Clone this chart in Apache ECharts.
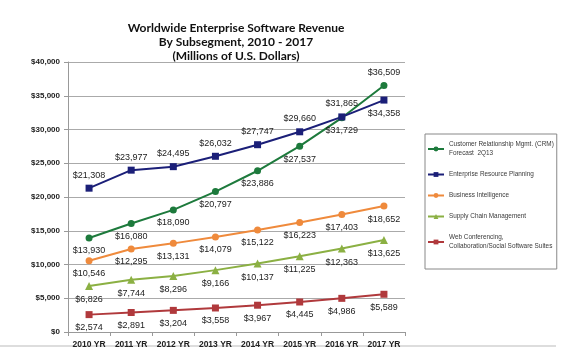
<!DOCTYPE html>
<html>
<head>
<meta charset="utf-8">
<script src="https://cdn.jsdelivr.net/npm/echarts@6/dist/echarts.min.js"></script>
<style>
  html, body { margin: 0; padding: 0; background: #fff; }
  #revenueGraph { width: 561px; height: 353px; }
</style>
</head>
<body>
<div id="revenueGraph"></div>
<script>
// Data (millions of U.S. dollars)
const years = ["2010 YR", "2011 YR", "2012 YR", "2013 YR", "2014 YR", "2015 YR", "2016 YR", "2017 YR"];
const crm = [13930, 16080, 18090, 20797, 23886, 27537, 31729, 36509];
const erp = [21308, 23977, 24495, 26032, 27747, 29660, 31865, 34358];
const bi = [10546, 12295, 13131, 14079, 15122, 16223, 17403, 18652];
const scm = [6826, 7744, 8296, 9166, 10137, 11225, 12363, 13625];
const webConf = [2574, 2891, 3204, 3558, 3967, 4445, 4986, 5589];
const yTicks = [0, 5000, 10000, 15000, 20000, 25000, 30000, 35000, 40000];

const money = (v) => "$" + v.toLocaleString("en-US");

// Build one line series; labels go to "pos", except the indexes in "flipped"
function makeSeries(name, data, color, symbol, pos, flipped) {
  const other = pos === "top" ? "bottom" : "top";
  return {
    name: name,
    type: "line",
    data: data.map((v, i) => ({
      value: v,
      label: { position: flipped.includes(i) ? other : pos },
    })),
    symbol: symbol,
    symbolSize: symbol === "triangle" ? 8 : 7,
    lineStyle: { color: color, width: 2 },
    itemStyle: { color: color },
    label: {
      show: true,
      distance: 5,
      formatter: (p) => money(p.value),
      fontFamily: "Liberation Sans",
      fontSize: 9,
      color: "#222",
    },
  };
}

function drawRevenueGraph() {
  const chart = echarts.init(document.getElementById("revenueGraph"));

  const option = {
    animation: false,
    title: {
      text: "Worldwide Enterprise Software Revenue\nBy Subsegment, 2010 - 2017\n(Millions of U.S. Dollars)",
      left: 231,
      top: 16,
      textAlign: "center",
      textStyle: {
        fontFamily: "Lato",
        fontWeight: "bold",
        fontSize: 12,
        lineHeight: 14,
        color: "#111",
      },
    },
    legend: {
      orient: "vertical",
      left: 425,
      top: 134,
      padding: [6, 3, 18, 2],
      itemGap: 12,
      itemWidth: 16,
      itemHeight: 6,
      borderColor: "#888",
      borderWidth: 1,
      textStyle: {
        fontFamily: "Liberation Sans",
        fontSize: 6.4,
        lineHeight: 9,
        color: "#3a3a3a",
      },
    },
    grid: { left: 68, right: 156, top: 62, bottom: 21 },
    xAxis: {
      type: "category",
      data: years,
      boundaryGap: true,
      axisLine: { lineStyle: { color: "#999" } },
      axisTick: { show: true, length: 4, lineStyle: { color: "#999" } },
      axisLabel: {
        interval: 0,
        margin: 8,
        fontFamily: "Liberation Sans",
        fontWeight: "bold",
        fontSize: 8.5,
        color: "#222",
      },
    },
    yAxis: {
      type: "value",
      min: yTicks[0],
      max: yTicks[yTicks.length - 1],
      interval: yTicks[1] - yTicks[0],
      axisLine: { show: true, lineStyle: { color: "#999" } },
      axisTick: { show: true, length: 4, lineStyle: { color: "#999" } },
      splitLine: { lineStyle: { color: "#aaa" } },
      axisLabel: {
        formatter: money,
        margin: 8,
        fontFamily: "Liberation Sans",
        fontWeight: "bold",
        fontSize: 8,
        color: "#222",
      },
    },
    graphic: [
      {
        type: "line",
        shape: { x1: 0, y1: 346, x2: 556, y2: 346 },
        style: { stroke: "#bbb", lineWidth: 1 },
      },
    ],
    series: [
      makeSeries("Customer Relationship Mgmt. (CRM)\nForecast  2Q13", crm, "#1d7a3c", "circle", "bottom", [7]),
      makeSeries("Enterprise Resource Planning", erp, "#1b1f78", "rect", "top", [7]),
      makeSeries("Business Intelligence", bi, "#ef8a3c", "circle", "bottom", []),
      makeSeries("Supply Chain Management", scm, "#8bb043", "triangle", "bottom", []),
      makeSeries("Web Conferencing,\nCollaboration/Social Software Suites", webConf, "#b0393c", "rect", "bottom", []),
    ],
  };

  // Render chart
  chart.setOption(option);
}

drawRevenueGraph();
</script>
</body>
</html>
